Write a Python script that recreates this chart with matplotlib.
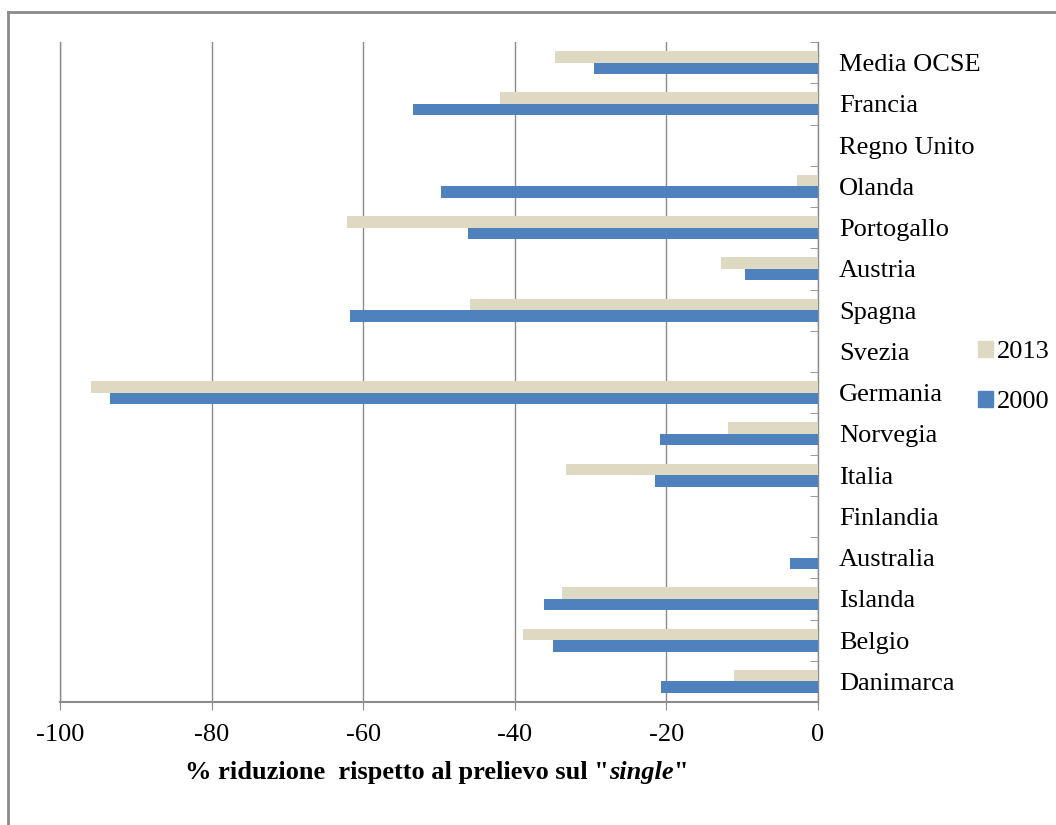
import matplotlib
matplotlib.use("Agg")
import matplotlib.pyplot as plt
import numpy as np
from matplotlib.lines import Line2D
from matplotlib.patches import Patch

categories = ["Media OCSE", "Francia", "Regno Unito", "Olanda", "Portogallo", "Austria",
              "Spagna", "Svezia", "Germania", "Norvegia", "Italia", "Finlandia",
              "Australia", "Islanda", "Belgio", "Danimarca"]
values_2013 = [-34.7, -42.0, 0.0, -2.8, -62.1, -12.8, -45.9, 0.0, -95.9, -11.9, -33.2, 0.0,
               0.0, -33.8, -38.9, -11.1]
values_2000 = [-29.6, -53.4, 0.0, -49.7, -46.2, -9.6, -61.7, 0.0, -93.4, -20.8, -21.5, 0.0,
               -3.7, -36.1, -35.0, -20.7]
xticks = [-100, -80, -60, -40, -20, 0]
xlabel_parts = ['% riduzione  rispetto al prelievo sul "', 'single', '"']

plt.rcParams['font.family'] = ['Liberation Serif', 'DejaVu Serif']

W, H = 1056, 825
fig = plt.figure(figsize=(W / 100, H / 100), dpi=100)
ax = fig.add_axes([60 / W, 1 - 702 / H, (818 - 60) / W, (702 - 42) / H])

c2013 = "#DDD9C3"
c2000 = "#4F81BD"
grid_c = "#8C8C8C"

y = np.arange(len(categories))
h = 0.28
ax.barh(y - h / 2, values_2013, height=h, color=c2013, label="2013", zorder=3)
ax.barh(y + h / 2, values_2000, height=h, color=c2000, label="2000", zorder=3)

ax.set_xlim(-100, 0)
ax.set_ylim(len(categories) - 0.5, -0.5)
ax.set_xticks(xticks)
ax.set_xticklabels([str(t) for t in xticks], fontsize=19)
ax.tick_params(axis='x', direction='out', length=6, color=grid_c, pad=10)

ax.yaxis.tick_right()
ax.set_yticks(y)
ax.set_yticklabels(categories, fontsize=19)
ax.tick_params(axis='y', which='major', length=0, pad=15)
ax.set_yticks(np.arange(-0.5, len(categories) + 0.5, 1.0), minor=True)
ax.tick_params(axis='y', which='minor', direction='in', length=6, color=grid_c, right=True, left=False)

ax.xaxis.grid(True, color=grid_c, linewidth=1.0, zorder=0)
ax.spines['top'].set_visible(False)
for s in ['left', 'right', 'bottom']:
    ax.spines[s].set_color(grid_c)
    ax.spines[s].set_linewidth(1.0)
ax.spines['bottom'].set_linewidth(1.5)

# x label composed of bold and bold-italic parts
t1 = fig.text(185 / W, 1 - 772 / H, xlabel_parts[0], fontsize=19, fontweight='bold', va='center', ha='left')
t2 = ax.annotate(xlabel_parts[1], xy=(1, 0), xycoords=t1, va='bottom', ha='left',
                 fontsize=19, fontweight='bold', fontstyle='italic', annotation_clip=False)
t3 = ax.annotate(xlabel_parts[2], xy=(1, 0), xycoords=t2, va='bottom', ha='left',
                 fontsize=19, fontweight='bold', annotation_clip=False)

handles = [Patch(color=c2013, label="2013"), Patch(color=c2000, label="2000")]
fig.legend(handles=handles, loc='center left', bbox_to_anchor=(978 / W, 1 - 377 / H),
           frameon=False, fontsize=19, handlelength=0.55, handleheight=0.55, handletextpad=0.15,
           labelspacing=1.05, borderaxespad=0, borderpad=0)

# outer border
fig.add_artist(Line2D([8 / W, 8 / W], [0, 1 - 12 / H], color="#8A8A8A", linewidth=2, transform=fig.transFigure))
fig.add_artist(Line2D([8 / W, 1], [1 - 12 / H, 1 - 12 / H], color="#8A8A8A", linewidth=2, transform=fig.transFigure))

fig.savefig("out.png", dpi=100)
